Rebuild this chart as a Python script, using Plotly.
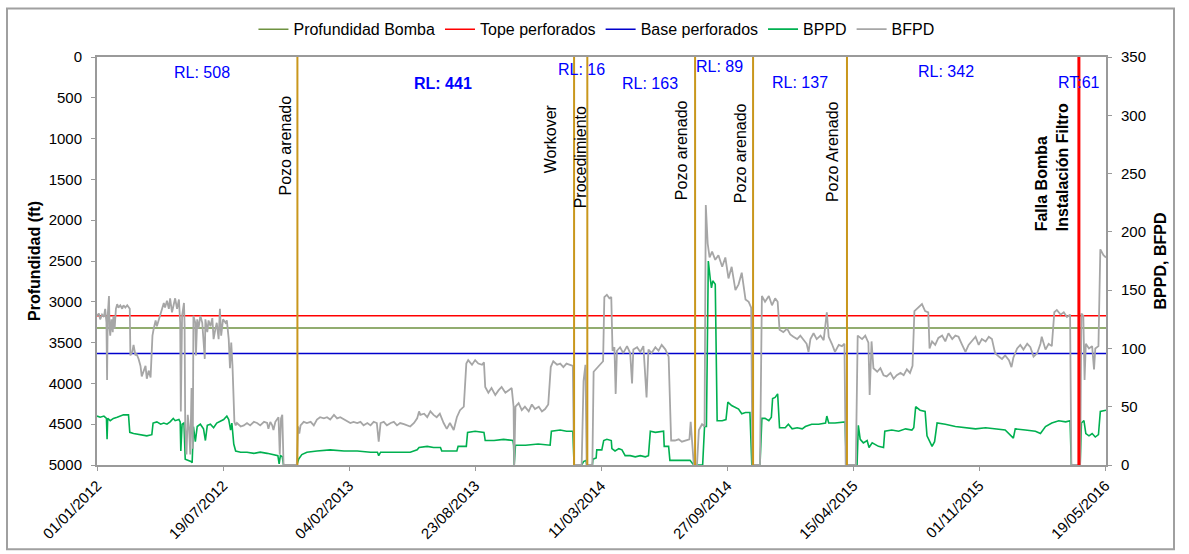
import pandas as pd
import plotly.graph_objects as go

INICIO = pd.Timestamp("2012-01-01")
FIN = pd.Timestamp("2016-05-20")

# ---- BFPD (barriles de fluido por día): días desde INICIO y valores ----
bfpd_dias = [
    0, 3, 5, 8, 11, 13, 15, 16, 17, 19,
    20, 21, 23, 25, 26, 28, 30, 32, 34, 37,
    40, 42, 45, 48, 52, 53, 56, 58, 61, 63,
    66, 69, 71, 74, 77, 79, 82, 85, 86, 88,
    90, 93, 95, 98, 101, 103, 106, 108, 111, 114,
    116, 119, 122, 124, 127, 130, 132, 133, 135, 138,
    139, 140, 142, 144, 146, 148, 150, 152, 153, 156,
    157, 159, 161, 164, 167, 169, 171, 172, 175, 177,
    180, 183, 185, 188, 190, 193, 195, 197, 200, 204,
    206, 209, 211, 212, 213, 215, 216, 218, 220, 222,
    228, 233, 238, 243, 249, 254, 259, 265, 270, 272,
    275, 278, 280, 283, 288, 290, 292, 294, 296, 317,
    319, 321, 323, 328, 333, 339, 344, 349, 354, 360,
    365, 370, 376, 381, 386, 392, 397, 402, 407, 413,
    418, 423, 429, 434, 439, 444, 447, 450, 455, 460,
    466, 471, 476, 481, 487, 492, 497, 503, 508, 511,
    513, 519, 524, 529, 534,
    539, 544, 550, 555, 560, 566, 571, 576, 582, 586,
    589, 595, 600, 605, 611, 614, 616, 621, 626, 632,
    637, 642, 648, 653, 658, 661, 662, 664, 669, 674,
    679, 685, 690, 695, 701, 706, 711, 716, 720, 724,
    730, 735, 740, 745, 751, 755, 757, 769, 772, 775,
    777, 786, 788, 793, 798, 803, 805, 809, 813, 816,
    818, 821, 823, 825, 830, 835, 841, 846, 849, 851,
    857, 862, 867, 872, 875, 880, 886, 891, 896, 902,
    907, 911, 917, 923, 928, 933, 940, 942, 944, 947,
    952, 955, 960, 964, 966, 969, 972, 976, 981, 986,
    992, 997, 1002, 1007, 1013, 1018, 1023, 1029, 1034, 1038,
    1040, 1052, 1055,
    1060, 1066, 1071, 1076, 1080, 1083, 1089, 1095, 1100, 1105,
    1111, 1116, 1121, 1126, 1129, 1132, 1137, 1142, 1148, 1153,
    1158, 1161, 1166, 1171, 1177, 1182, 1186, 1188, 1204, 1207,
    1214, 1219, 1224, 1226, 1229, 1232, 1238, 1243, 1248, 1253,
    1259, 1264, 1269, 1275, 1280, 1285, 1290, 1294, 1297, 1304,
    1309, 1314, 1319, 1321, 1325, 1330, 1335, 1341, 1346, 1351,
    1357, 1362, 1367, 1372, 1378, 1383, 1388, 1394, 1399, 1404,
    1410, 1415, 1420, 1425, 1431, 1436, 1441, 1447, 1451, 1454,
    1460, 1465, 1470, 1476, 1481, 1486, 1492, 1497, 1499, 1505,
    1510, 1515, 1519, 1523, 1529, 1534, 1539, 1544, 1546, 1560,
    1562, 1565, 1567, 1569, 1574, 1579, 1582, 1584, 1589, 1592,
    1597, 1601,
]
bfpd_valores = [
    128, 130, 125, 129, 127, 134, 122, 73, 128, 145,
    117, 111, 125, 114, 128, 117, 134, 138, 135, 137,
    134, 137, 135, 137, 134, 94, 97, 103, 94, 95,
    91, 85, 76, 80, 85, 74, 81, 75, 94, 111,
    117, 124, 119, 125, 129, 134, 139, 135, 141, 134,
    143, 131, 139, 143, 134, 142, 122, 46, 128, 139,
    120, 32, 9, 43, 32, 9, 66, 14, 128, 122,
    94, 125, 117, 128, 122, 108, 91, 125, 114, 124,
    119, 126, 108, 117, 122, 108, 134, 111, 125, 122,
    124, 108, 83, 94, 105, 85, 63, 37, 34, 36,
    33, 34, 36, 34, 37, 36, 34, 37, 36, 31,
    37, 34, 30, 37, 41, 9, 40, 43, 0, 0,
    33, 27, 34, 37, 36, 37, 34, 39, 41, 40,
    41, 39, 43, 40, 41, 39, 37, 36, 37, 36,
    37, 34, 36, 34, 37, 36, 20, 36, 37, 34,
    36, 37, 34, 36, 35, 34, 33, 36, 40, 46,
    43, 44, 41, 46, 43,
    41, 44, 36, 31, 36, 30, 41, 47, 50, 87,
    90, 86, 90, 87, 86, 88, 67, 62, 66, 60,
    64, 67, 62, 64, 66, 50, 0, 50, 53, 47,
    50, 46, 52, 48, 50, 46, 48, 52, 84, 89,
    86, 87, 84, 87, 86, 85, 0, 0, 72, 86,
    0, 0, 80, 83, 86, 89, 144, 146, 143, 144,
    98, 101, 61, 98, 101, 96, 102, 96, 70, 99,
    101, 97, 102, 58, 99, 96, 101, 98, 103, 99,
    93, 21, 21, 22, 20, 21, 22, 37, 21, 0,
    0, 30, 35, 33, 223, 190, 178, 183, 176, 180,
    170, 178, 160, 170, 150, 155, 165, 142, 140, 135,
    0, 0, 145,
    140, 145, 137, 143, 140, 116, 114, 117, 112, 110,
    108, 111, 107, 104, 97, 108, 113, 108, 111, 107,
    131, 110, 104, 97, 103, 102, 104, 0, 0, 111,
    108, 111, 105, 60, 106, 83, 80, 83, 77, 76,
    79, 74, 77, 79, 77, 82, 79, 85, 132, 136,
    138, 132, 131, 100, 106, 103, 109, 111, 106, 113,
    108, 111, 110, 104, 97, 103, 106, 110, 103, 108,
    106, 110, 108, 96, 93, 91, 94, 90, 84, 92,
    100, 103, 99, 104, 101, 93, 96, 104, 110, 99,
    104, 102, 131, 133, 129, 131, 127, 129, 0, 0,
    130, 128, 73, 104, 100, 102, 82, 100, 102, 185,
    180, 178,
]

# ---- BPPD (barriles de petróleo por día) ----
bppd_dias = [
    0, 5, 11, 15, 16, 17, 21, 26, 32, 37,
    42, 50, 52, 58, 69, 79, 87, 89, 95, 101,
    106, 111, 116, 121, 124, 130, 132, 133, 135, 138,
    140, 146, 149, 151, 153, 156, 159, 164, 169, 172,
    175, 180, 185, 190, 196, 201, 206, 209, 212, 214,
    217, 220, 228, 238, 249, 259, 270, 280, 287, 289,
    291, 294, 296, 317, 320, 325, 333, 349, 370, 392,
    413, 434, 445, 447, 450, 476, 497, 508, 511, 524,
    534, 545, 547, 571, 573, 586, 588, 600, 614, 616,
    630, 645, 660, 661, 662, 664, 680, 700, 719, 721,
    735, 745, 755, 757, 769, 772, 776, 777, 786, 787,
    792, 793, 801, 804, 809, 816, 817, 822, 828, 833,
    838, 846, 854, 862, 870, 875, 878, 886, 894, 899,
    900, 907, 909, 920, 931, 941, 944, 947, 961, 964,
    967, 970, 973, 975, 977, 981, 984, 992, 998, 1001,
    1007, 1013, 1018, 1023, 1029, 1036, 1039, 1052, 1055, 1060,
    1066, 1070, 1072, 1076, 1080, 1083, 1092, 1097, 1103, 1111,
    1119, 1124, 1134, 1145, 1156, 1158, 1161, 1171, 1182, 1187,
    1189, 1206, 1208, 1211, 1216, 1222, 1225, 1230, 1240, 1248,
    1250, 1261, 1272, 1283, 1293, 1296, 1299, 1306, 1314, 1317,
    1325, 1329, 1333, 1346, 1362, 1378, 1394, 1410, 1425, 1441,
    1454, 1457, 1473, 1489, 1497, 1505, 1515, 1526, 1537, 1544,
    1546, 1560, 1562, 1566, 1569, 1574, 1579, 1584, 1589, 1592,
    1601,
]
bppd_valores = [
    42, 41, 42, 40, 22, 40, 38, 40, 41, 42,
    43, 43, 28, 27, 26, 25, 26, 36, 37, 35,
    36, 35, 37, 40, 38, 39, 37, 12, 35, 36,
    5, 4, 3, 2, 33, 20, 33, 35, 31, 21,
    34, 35, 32, 36, 38, 39, 42, 39, 30, 36,
    18, 12, 11, 11, 10, 11, 10, 9, 8, 1,
    8, 7, 0, 0, 5, 9, 11, 12, 13, 12,
    12, 11, 11, 8, 11, 11, 11, 13, 15, 16,
    15, 15, 12, 12, 16, 16, 28, 29, 28, 21,
    21, 22, 21, 17, 0, 17, 17, 18, 17, 29,
    30, 29, 29, 0, 0, 3, 4, 0, 0, 5,
    6, 13, 13, 21, 22, 21, 14, 12, 14, 13,
    8, 8, 7, 8, 7, 8, 29, 28, 29, 29,
    16, 16, 4, 4, 4, 4, 2, 0, 0, 33,
    33, 175, 160, 152, 158, 155, 38, 38, 39, 54,
    51, 49, 48, 44, 45, 45, 0, 0, 40, 40,
    38, 41, 57, 58, 61, 32, 32, 35, 31, 32,
    31, 33, 35, 35, 36, 42, 36, 36, 37, 37,
    0, 0, 34, 22, 19, 21, 15, 19, 16, 15,
    29, 30, 29, 31, 30, 32, 50, 47, 46, 25,
    16, 20, 36, 35, 33, 32, 31, 32, 31, 30,
    23, 31, 30, 29, 27, 33, 36, 38, 37, 38,
    0, 0, 36, 38, 27, 25, 27, 24, 26, 46,
    47,
]

# ---- Profundidades de referencia (ft) ----
profundidad_bomba = 3320
tope_perforados = 3170
base_perforados = 3635

# ---- Eventos del pozo ----
eventos_fechas = ["2012-11-14", "2014-01-27", "2014-02-17", "2014-08-07",
                  "2014-11-07", "2015-04-05"]
eventos_textos = ["Pozo arenado", "Workover", "Procedimiento", "Pozo arenado",
                  "Pozo arenado", "Pozo Arenado"]
falla_fecha = "2016-04-07"
falla_texto = "<b>Falla Bomba<br>Instalación Filtro</b>"

# ---- Etiquetas de corrida (RL / RT) ----
corridas_fechas = ["2012-06-15", "2013-07-03", "2014-02-07", "2014-05-27",
                   "2014-09-15", "2015-01-20", "2015-09-09", "2016-04-07"]
corridas_textos = ["RL: 508", "<b>RL: 441</b>", "RL: 16", "RL: 163",
                   "RL: 89", "RL: 137", "RL: 342", "RT:61"]

# ---- Marcas del eje de fechas ----
ticks_fechas = ["2012-01-01", "2012-07-19", "2013-02-04", "2013-08-23",
                "2014-03-11", "2014-09-27", "2015-04-15", "2015-11-01",
                "2016-05-19"]


def a_fechas(dias):
    return INICIO + pd.to_timedelta(dias, unit="D")


FUENTE = "Liberation Sans, Arial, sans-serif"
GRIS_EJE = "#9a9a9a"
DORADO = "#C9971C"

fig = go.Figure()

rango_x = [INICIO, FIN]
for nombre, valor, color in [
    ("Profundidad Bomba", profundidad_bomba, "#6E9240"),
    ("Tope perforados", tope_perforados, "#FF0000"),
    ("Base perforados", base_perforados, "#0000CC"),
]:
    fig.add_trace(go.Scatter(
        x=rango_x, y=[valor, valor], mode="lines", name=nombre,
        line=dict(color=color, width=1.5), yaxis="y",
    ))

fig.add_trace(go.Scatter(
    x=a_fechas(bppd_dias), y=bppd_valores, mode="lines", name="BPPD",
    line=dict(color="#00B050", width=1.6), yaxis="y2",
))
fig.add_trace(go.Scatter(
    x=a_fechas(bfpd_dias), y=bfpd_valores, mode="lines", name="BFPD",
    line=dict(color="#A6A6A6", width=1.8), yaxis="y2",
))

# Plot area occupies x 97..1106 px and y 56..468 px of the page
AREA_W, AREA_H = 1009, 412

shapes = []
for f in eventos_fechas:
    shapes.append(dict(type="line", xref="x", yref="paper", x0=f, x1=f,
                       y0=0, y1=1, line=dict(color=DORADO, width=2),
                       layer="above"))
shapes.append(dict(type="line", xref="x", yref="paper", x0=falla_fecha,
                   x1=falla_fecha, y0=0, y1=1,
                   line=dict(color="#FF0000", width=3), layer="above"))
# outer frame of the chart
shapes.append(dict(type="rect", xref="paper", yref="paper",
                   x0=-90 / AREA_W, x1=1077 / AREA_W,
                   y0=-85 / AREA_H, y1=461 / AREA_H,
                   line=dict(color="#a0a0a0", width=2), layer="below"))

annotations = []
evento_pos = [(-12, 145), (-24, 139), (-7, 157), (-14, 150), (-13, 153), (-15, 151)]
for f, t, (dx, py) in zip(eventos_fechas, eventos_textos, evento_pos):
    annotations.append(dict(
        x=f, xref="x", y=(468 - py) / AREA_H, yref="paper", text=t,
        textangle=-90, showarrow=False, xanchor="center", yanchor="middle",
        xshift=dx, font=dict(family=FUENTE, size=16, color="black"),
    ))
annotations.append(dict(
    x=falla_fecha, xref="x", y=(468 - 167.5) / AREA_H, yref="paper",
    text=falla_texto, textangle=-90, showarrow=False, align="left",
    xanchor="center", yanchor="middle", xshift=-26,
    font=dict(family=FUENTE, size=16, color="black"),
))
corrida_py = [72, 83, 69, 83, 66, 82, 71, 82]
for f, t, py in zip(corridas_fechas, corridas_textos, corrida_py):
    annotations.append(dict(
        x=f, xref="x", y=(468 - py) / AREA_H, yref="paper", text=t,
        showarrow=False, xanchor="center", yanchor="middle",
        font=dict(family=FUENTE, size=16, color="#0000FF"),
    ))

fig.update_layout(
    width=1189, height=554,
    margin=dict(l=97, r=83, t=56, b=86),
    paper_bgcolor="white", plot_bgcolor="white",
    font=dict(family=FUENTE, size=15, color="black"),
    showlegend=True,
    legend=dict(orientation="h", x=0.495, xanchor="center",
                y=(468 - 28) / AREA_H, yanchor="middle",
                font=dict(family=FUENTE, size=16, color="black"),
                bgcolor="rgba(0,0,0,0)", itemwidth=30),
    xaxis=dict(
        type="date", range=rango_x, tickvals=ticks_fechas,
        ticktext=[pd.Timestamp(t).strftime("%d/%m/%Y") for t in ticks_fechas],
        tickangle=-45, ticks="outside", ticklen=4, tickcolor=GRIS_EJE,
        showline=True, linecolor=GRIS_EJE, linewidth=2, mirror=True,
        showgrid=False, zeroline=False, tickfont=dict(size=15),
    ),
    yaxis=dict(
        range=[5000, 0], tickvals=list(range(0, 5001, 500)),
        ticks="outside", ticklen=4, tickcolor=GRIS_EJE,
        showline=True, linecolor=GRIS_EJE, linewidth=2,
        showgrid=False, zeroline=False, tickfont=dict(size=15),
        ticklabelstandoff=6,
        title=dict(text="<b>Profundidad (ft)</b>", font=dict(size=16),
                   standoff=4),
    ),
    yaxis2=dict(
        range=[0, 350], tickvals=list(range(0, 351, 50)),
        overlaying="y", side="right",
        ticks="outside", ticklen=4, tickcolor=GRIS_EJE,
        showline=True, linecolor=GRIS_EJE, linewidth=2,
        showgrid=False, zeroline=False, tickfont=dict(size=15),
        ticklabelstandoff=6,
        title=dict(text="<b>BPPD, BFPD</b>", font=dict(size=16),
                   standoff=10),
    ),
    shapes=shapes,
    annotations=annotations,
)

fig.write_html("out.html")
